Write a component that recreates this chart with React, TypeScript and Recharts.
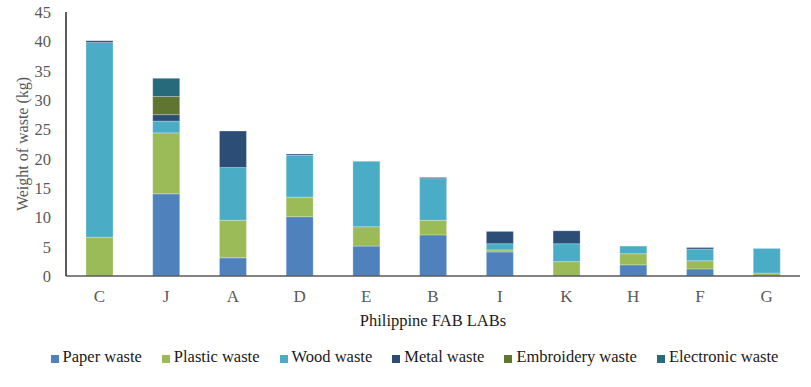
import { Bar, BarChart, Legend, XAxis, YAxis } from "recharts";

const labs = ["C", "J", "A", "D", "E", "B", "I", "K", "H", "F", "G"];
const paper = [0, 14.0, 3.1, 10.1, 5.1, 7.0, 4.1, 0, 1.9, 1.2, 0];
const plastic = [6.6, 10.4, 6.4, 3.35, 3.3, 2.5, 0.35, 2.45, 1.9, 1.4, 0.5];
const wood = [33.2, 2.0, 9.0, 7.15, 11.15, 7.1, 1.05, 3.05, 1.3, 2.0, 4.2];
const metal = [0.3, 1.1, 6.2, 0.2, 0, 0.2, 2.1, 2.2, 0, 0.25, 0];
const embroidery = [0, 3.1, 0, 0, 0, 0, 0, 0, 0, 0, 0];
const electronic = [0, 3.1, 0, 0, 0, 0, 0, 0, 0, 0, 0];
const yTicks = [0, 5, 10, 15, 20, 25, 30, 35, 40, 45];

const series = [
  { key: "paper", name: "Paper waste", color: "#4F81BD" },
  { key: "plastic", name: "Plastic waste", color: "#9BBB59" },
  { key: "wood", name: "Wood waste", color: "#4BACC6" },
  { key: "metal", name: "Metal waste", color: "#2C4D75" },
  { key: "embroidery", name: "Embroidery waste", color: "#5F7530" },
  { key: "electronic", name: "Electronic waste", color: "#276A7C" },
];

const data = labs.map((lab, i) => ({
  lab,
  paper: paper[i],
  plastic: plastic[i],
  wood: wood[i],
  metal: metal[i],
  embroidery: embroidery[i],
  electronic: electronic[i],
}));

const font = "Liberation Serif";

function LegendRow() {
  return (
    <div
      style={{
        display: "flex",
        justifyContent: "center",
        gap: 20,
        fontFamily: font,
        fontSize: 16.5,
        color: "#1a1a1a",
        whiteSpace: "nowrap",
      }}
    >
      {series.map((s) => (
        <span key={s.key} style={{ display: "flex", alignItems: "center" }}>
          <span
            style={{
              display: "inline-block",
              width: 8,
              height: 8,
              marginTop: 3,
              background: s.color,
              marginRight: 4,
            }}
          />
          {s.name}
        </span>
      ))}
    </div>
  );
}

export default function App() {
  return (
    <div style={{ width: 811, height: 387, background: "#fff", fontFamily: font }}>
      <style>{"body{margin:0}"}</style>
      <BarChart
        width={811}
        height={387}
        data={data}
        margin={{ top: 12, right: 11, left: 0, bottom: 51 }}
        barSize={27}
        style={{ fontFamily: font }}
      >
        <XAxis
          dataKey="lab"
          height={60}
          tickLine={false}
          tickMargin={8}
          axisLine={{ stroke: "#595959", strokeWidth: 1.5 }}
          tick={{ fill: "#595959", fontSize: 17, fontFamily: font }}
          label={{
            value: "Philippine FAB LABs",
            position: "insideBottom",
            offset: 10,
            fill: "#1a1a1a",
            fontSize: 16.5,
            fontFamily: font,
          }}
        />
        <YAxis
          width={66}
          domain={[0, 45]}
          ticks={yTicks}
          tickLine={false}
          tickMargin={9}
          axisLine={{ stroke: "#262626", strokeWidth: 1.5 }}
          tick={{ fill: "#595959", fontSize: 16.5, fontFamily: font }}
          label={{
            value: "Weight of waste (kg)",
            angle: -90,
            position: "insideLeft",
            offset: 22,
            style: { textAnchor: "middle" },
            fill: "#595959",
            fontSize: 16,
            fontFamily: font,
          }}
        />
        <Legend
          verticalAlign="middle"
          align="center"
          layout="horizontal"
          wrapperStyle={{ top: 347, left: 9, width: 811, height: 20 }}
          content={() => <LegendRow />}
        />
        {series.map((s) => (
          <Bar
            key={s.key}
            dataKey={s.key}
            name={s.name}
            stackId="w"
            fill={s.color}
            stroke="#ffffff"
            strokeOpacity={0.5}
            strokeWidth={0.5}
            isAnimationActive={false}
          />
        ))}
      </BarChart>
    </div>
  );
}
